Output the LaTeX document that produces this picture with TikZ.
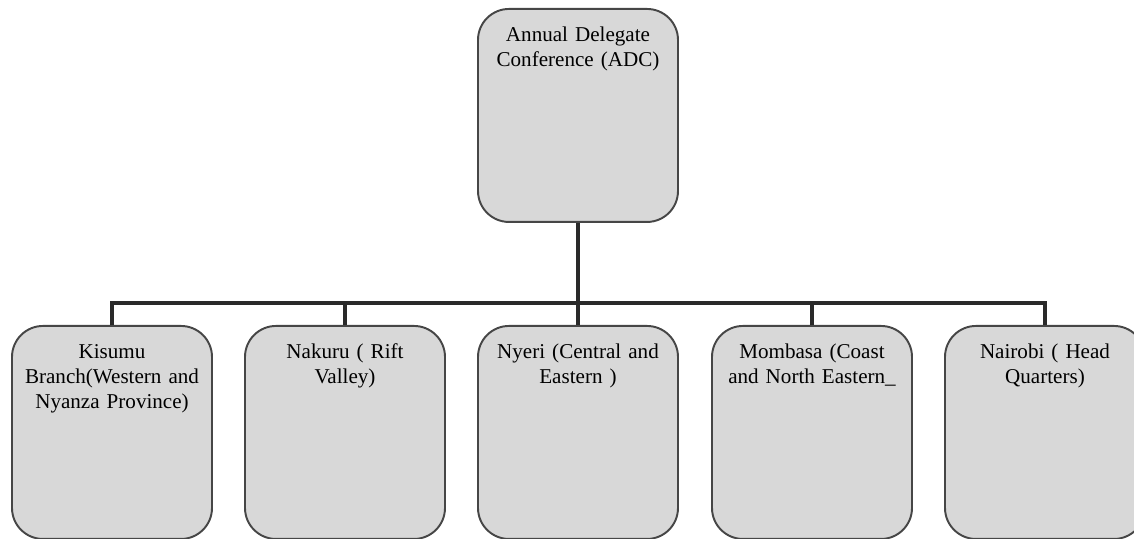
\documentclass[tikz,border=0pt]{standalone}
\usepackage{fontspec}
\setmainfont{Liberation Serif}
\usetikzlibrary{positioning}

\definecolor{boxfill}{RGB}{216,216,216}
\definecolor{boxline}{RGB}{70,70,70}
\definecolor{barline}{RGB}{42,42,42}

\tikzset{
	office/.style={draw=boxline, fill=boxfill, line width=1.1pt, rounded corners=0.62cm,
		minimum width=4cm, text width=3.6cm, align=center, inner xsep=0.2cm, inner ysep=0.1cm,
		text height=0.56cm, text depth=3.5cm, anchor=north,
		font=\fontsize{12pt}{14.2pt}\selectfont},
	link/.style={draw=barline, line width=2.8pt}
}

\begin{document}
\begin{tikzpicture}
			%%%%% START %%%%%
			\useasboundingbox (0, 0) rectangle (22.68, 10.78);
			
			\node[office] (adc) at (11.56, 10.62) {Annual Delegate\\Conference (ADC)};
			
			\node[office] (kisumu) at (2.24, 4.28) {Kisumu\\Branch(Western and\\Nyanza Province)};
			\node[office] (nakuru) at (6.9, 4.28) {Nakuru ( Rift\\Valley)};
			\node[office] (nyeri) at (11.56, 4.28) {Nyeri (Central and\\Eastern )};
			\node[office] (mombasa) at (16.24, 4.28) {Mombasa (Coast\\and North Eastern\_};
			\node[office] (nairobi) at (20.9, 4.28) {Nairobi ( Head\\Quarters)};
			
			\coordinate (bar) at (0, 4.72);
			
			\draw[link] (adc.south) -- (adc.south |- bar);
			\draw[link] (kisumu.north) -- (kisumu.north |- bar) -- (nairobi.north |- bar) -- (nairobi.north);
			\draw[link] (nakuru.north |- bar) -- (nakuru.north);
			\draw[link] (nyeri.north |- bar) -- (nyeri.north);
			\draw[link] (mombasa.north |- bar) -- (mombasa.north);
			
			%%%%% END %%%%%
\end{tikzpicture}
\end{document}
